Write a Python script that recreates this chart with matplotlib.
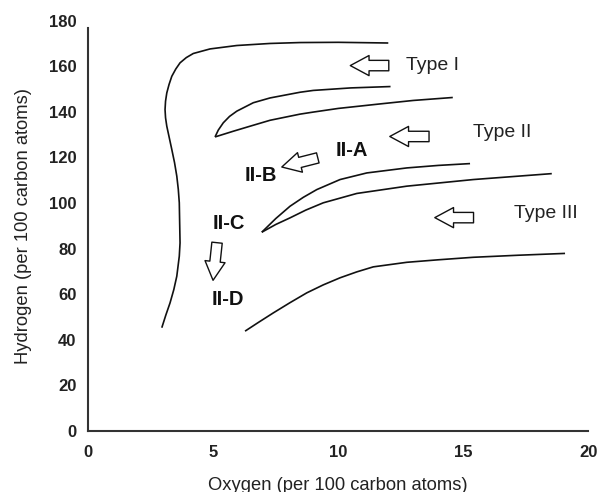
import matplotlib
matplotlib.use("Agg")
import matplotlib.pyplot as plt
from matplotlib.patches import ArrowStyle

plt.rcParams['font.family'] = ['Liberation Sans', 'DejaVu Sans']

# ---- data ----
type1_outer_x = [2.94, 3.1, 3.27, 3.42, 3.54, 3.64, 3.67, 3.66, 3.64, 3.6, 3.54, 3.45,
                 3.34, 3.24, 3.14, 3.09, 3.07, 3.09, 3.14, 3.23, 3.34, 3.5, 3.67, 3.92,
                 4.2, 4.87, 5.94, 7.27, 8.47, 10.0, 12.0]
type1_outer_y = [45.3, 50.8, 56.2, 62.0, 67.9, 76.7, 82.5, 88.4, 100.1, 106.0, 111.8, 117.7,
                 123.5, 128.6, 133.7, 137.4, 141.0, 144.7, 148.3, 152.0, 155.6, 158.8, 161.5, 163.8,
                 165.6, 167.6, 169.1, 170.0, 170.4, 170.5, 170.2]

type1_upper_x = [5.07, 5.2, 5.4, 5.65, 5.94, 6.6, 7.27, 8.47, 9.0, 10.5, 12.09]
type1_upper_y = [129.0, 132.0, 135.2, 138.0, 140.3, 144.0, 146.1, 148.6, 149.4, 150.5, 151.1]
type1_lower_x = [5.07, 5.8, 6.47, 7.27, 8.47, 9.0, 10.0, 11.69, 13.0, 14.58]
type1_lower_y = [129.0, 131.5, 133.7, 136.3, 139.0, 139.9, 141.5, 143.5, 145.0, 146.3]

type2_upper_x = [6.94, 7.5, 8.07, 8.6, 9.14, 10.07, 11.14, 12.74, 14.0, 15.27]
type2_upper_y = [87.2, 93.2, 98.6, 102.5, 105.9, 110.3, 113.2, 115.4, 116.5, 117.3]
type2_lower_x = [6.94, 7.5, 8.07, 8.7, 9.4, 10.74, 12.74, 15.4, 18.54]
type2_lower_y = [87.2, 90.6, 93.5, 96.9, 100.1, 104.2, 107.4, 110.3, 112.9]

type3_x = [6.27, 6.8, 7.4, 8.07, 8.74, 9.4, 10.07, 10.74, 11.4, 12.74, 14.0, 15.4, 17.2, 19.07]
type3_y = [43.8, 47.6, 51.8, 56.3, 60.6, 64.1, 67.2, 69.8, 72.0, 74.0, 75.1, 76.2, 77.1, 77.9]

# arrows: tip and tail positions
arrow_tip_x = [10.48, 12.06, 13.86, 7.74, 4.99]
arrow_tip_y = [160.3, 129.2, 93.6, 115.8, 66.1]
arrow_tail_x = [12.02, 13.63, 15.41, 9.18, 5.15]
arrow_tail_y = [160.3, 129.2, 93.6, 119.8, 82.6]

type_labels = ["Type I", "Type II", "Type III"]
type_label_x = [12.69, 15.37, 17.04]
type_label_y = [160.3, 131.0, 95.5]

sub_labels = ["II-A", "II-B", "II-C", "II-D"]
sub_label_x = [9.88, 6.27, 4.98, 4.93]
sub_label_y = [123.0, 112.0, 91.2, 57.8]

xticks = [0, 5, 10, 15, 20]
yticks = [0, 20, 40, 60, 80, 100, 120, 140, 160, 180]

# ---- figure ----
fig = plt.figure(figsize=(5.97, 4.92), dpi=100)
ax = fig.add_axes([0.1479, 0.1240, 0.8375, 0.8340])
ax.set_xlim(0, 20)
ax.set_ylim(0, 180)

lc = '#111111'
lw = 1.2
for xs, ys in [(type1_outer_x, type1_outer_y), (type1_upper_x, type1_upper_y),
               (type1_lower_x, type1_lower_y), (type2_upper_x, type2_upper_y),
               (type2_lower_x, type2_lower_y), (type3_x, type3_y)]:
    ax.plot(xs, ys, color=lc, lw=lw, solid_capstyle='butt', solid_joinstyle='round',
            clip_on=False)

style = ArrowStyle("Simple", head_length=13.5, head_width=14.5, tail_width=7.5)
for tx, ty, sx, sy in zip(arrow_tip_x, arrow_tip_y, arrow_tail_x, arrow_tail_y):
    ax.annotate("", xy=(tx, ty), xytext=(sx, sy),
                arrowprops=dict(arrowstyle=style, mutation_scale=1,
                                fc='white', ec='#111111', lw=1.0,
                                shrinkA=0, shrinkB=0))

for s, x, y in zip(type_labels, type_label_x, type_label_y):
    ax.text(x, y, s, ha='left', va='center', fontsize=14, color='#222222')
for s, x, y in zip(sub_labels, sub_label_x, sub_label_y):
    ax.text(x, y, s, ha='left', va='center', fontsize=14.5, fontweight='bold',
            color='#111111')

for side in ['top', 'right']:
    ax.spines[side].set_visible(False)
for side in ['left', 'bottom']:
    ax.spines[side].set_linewidth(1.5)
    ax.spines[side].set_color('#333333')
ax.spines['left'].set_bounds(0, 176.8)

ax.set_xticks(xticks)
ax.set_yticks(yticks)
ax.set_xticks([5, 10, 15], minor=True)
ax.tick_params(axis='x', which='major', length=0, pad=10, labelsize=12)
ax.tick_params(axis='x', which='minor', length=6, width=1.5, color='#333333',
               direction='out')
ax.tick_params(axis='y', which='major', length=0, pad=8.5, labelsize=12)
for lab in ax.get_xticklabels() + ax.get_yticklabels():
    lab.set_fontweight('bold')
    lab.set_color('#222222')

ax.set_xlabel("Oxygen (per 100 carbon atoms)", fontsize=13.2, color='#222222',
              labelpad=12)
ax.set_ylabel("Hydrogen (per 100 carbon atoms)", fontsize=13.2, color='#222222',
              labelpad=12)

fig.savefig("out.png", dpi=100)
